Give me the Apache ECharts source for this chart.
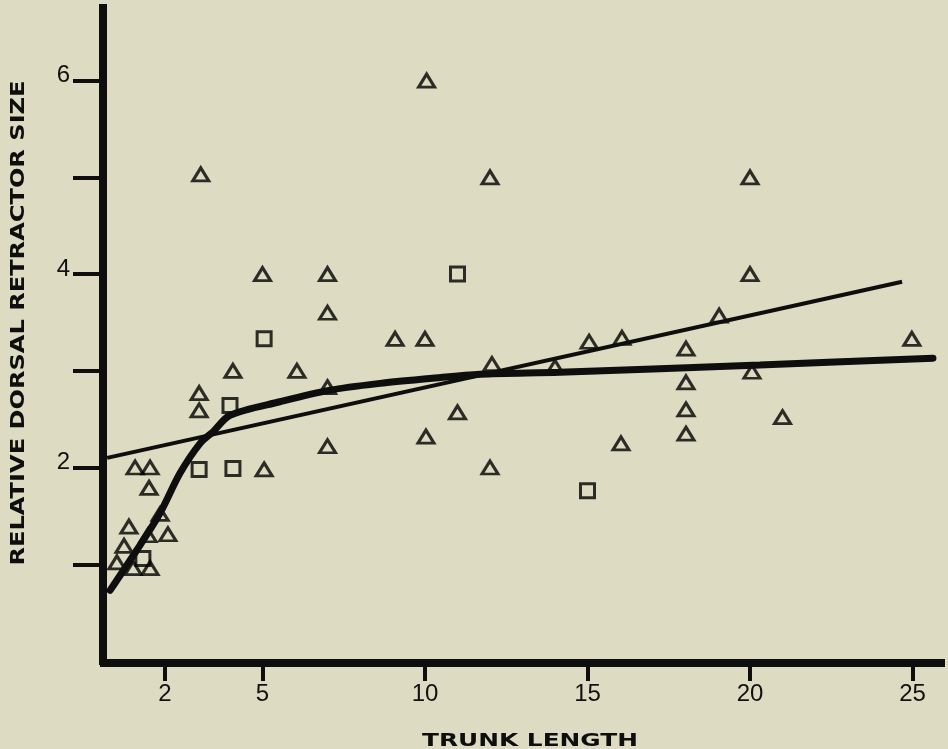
<!DOCTYPE html>
<html><head><meta charset="utf-8">
<script src="https://cdn.jsdelivr.net/npm/echarts@6/dist/echarts.min.js"></script>
<style>html,body{margin:0;padding:0;background:#dddbc1}#c{width:948px;height:749px}</style>
</head><body><div id="c"></div>
<script>
// ---- data ----
const xTickValues = [2, 5, 10, 15, 20, 25];
const yTickValues = [1, 2, 3, 4, 5, 6];
const yLabelValues = [2, 4, 6];
const xTitle = 'TRUNK LENGTH';
const yTitle = 'RELATIVE DORSAL RETRACTOR SIZE';

const triangles = [
  [1.08, 2.0], [1.54, 2.0], [1.51, 1.79], [1.85, 1.52], [0.89, 1.39], [1.48, 1.30],
  [2.09, 1.31], [0.74, 1.19], [0.52, 1.02], [1.02, 0.96], [1.54, 0.96],
  [3.1, 5.03], [10.05, 6.0], [12.0, 5.0], [20.0, 5.0], [5.0, 4.0], [7.0, 4.0], [20.0, 4.0],
  [7.0, 3.6], [9.08, 3.33], [10.0, 3.33], [6.06, 3.0], [4.09, 3.0], [3.05, 2.77], [3.05, 2.59],
  [7.0, 2.83], [11.0, 2.57], [7.0, 2.22], [10.03, 2.32], [12.06, 3.07], [12.0, 2.0],
  [14.0, 3.04], [15.05, 3.3], [16.06, 3.34], [16.03, 2.25], [19.05, 3.57], [18.03, 3.23],
  [18.03, 2.88], [18.03, 2.6], [18.03, 2.35], [20.06, 2.99], [21.0, 2.52], [24.98, 3.33],
  [5.05, 1.98]
];
const squares = [
  [1.32, 1.06], [3.05, 1.98], [4.09, 1.99], [4.0, 2.64], [5.05, 3.33], [11.0, 4.0], [15.0, 1.76]
];
const thickCurve = [
  [0.31, 0.73], [1.14, 1.15], [1.85, 1.53], [2.46, 1.94], [3.08, 2.25], [3.48, 2.37],
  [4.0, 2.54], [5.54, 2.68], [7.08, 2.80], [8.62, 2.87], [10.15, 2.92], [11.69, 2.965],
  [14.15, 2.985], [20.3, 3.06], [25.63, 3.13]
];
const thinLine = [[0.22, 2.10], [24.68, 3.92]];

// ---- chart ----
const ink = '#0e0e0e';
function measure(text, font) {
  const ctx = document.createElement('canvas').getContext('2d');
  ctx.font = font;
  return ctx.measureText(text).width;
}
const xTitleFont = 'bold 18px "DejaVu Sans"';
const yTitleFont = 'bold 19px "DejaVu Sans"';
const xScale = 216 / measure(xTitle, xTitleFont);
const yScale = 485 / measure(yTitle, yTitleFont);

const chart = echarts.init(document.getElementById('c'), null, {renderer: 'canvas'});
chart.setOption({
  animation: false,
  backgroundColor: '#dddbc1',
  grid: {left: 100, right: 3, top: 8, bottom: 88, containLabel: false},
  xAxis: {
    type: 'value', min: 0, max: 26, offset: 2,
    splitLine: {show: false},
    axisLine: {onZero: false, lineStyle: {color: ink, width: 8, cap: 'butt'}},
    axisTick: {customValues: xTickValues, length: 18, lineStyle: {color: ink, width: 4}},
    axisLabel: {customValues: xTickValues, margin: 19, fontSize: 24, color: '#111',
      fontFamily: '"Liberation Sans", Arial, sans-serif'}
  },
  yAxis: {
    type: 'value', min: 0, max: 6.75, offset: -3,
    splitLine: {show: false},
    axisLine: {onZero: false, lineStyle: {color: ink, width: 8, cap: 'square'}},
    axisTick: {customValues: yTickValues, length: 30, lineStyle: {color: ink, width: 4}},
    axisLabel: {customValues: yLabelValues, margin: 33, fontSize: 24, color: '#111',
      verticalAlign: 'bottom', lineHeight: 10,
      fontFamily: '"Liberation Sans", Arial, sans-serif'}
  },
  graphic: [
    {type: 'text', x: 530, y: 741, scaleX: xScale,
      style: {text: xTitle, font: xTitleFont, fill: ink, align: 'center', verticalAlign: 'middle'}},
    {type: 'text', x: 19, y: 323, rotation: Math.PI / 2, scaleX: yScale,
      style: {text: yTitle, font: yTitleFont, fill: ink, align: 'center', verticalAlign: 'middle'}}
  ],
  series: [
    {type: 'scatter', data: triangles, symbol: 'triangle', symbolSize: [16, 13],
      itemStyle: {color: 'rgba(0,0,0,0)', borderColor: '#000', borderWidth: 3}, z: 2},
    {type: 'scatter', data: squares, symbol: 'rect', symbolSize: 14,
      itemStyle: {color: 'rgba(0,0,0,0)', borderColor: '#000', borderWidth: 3}, z: 2},
    {type: 'line', data: thinLine, showSymbol: false, lineStyle: {color: ink, width: 4}, z: 3},
    {type: 'line', data: thickCurve, showSymbol: false, smooth: 0.3,
      lineStyle: {color: ink, width: 7, cap: 'round'}, z: 3}
  ]
});
</script></body></html>
